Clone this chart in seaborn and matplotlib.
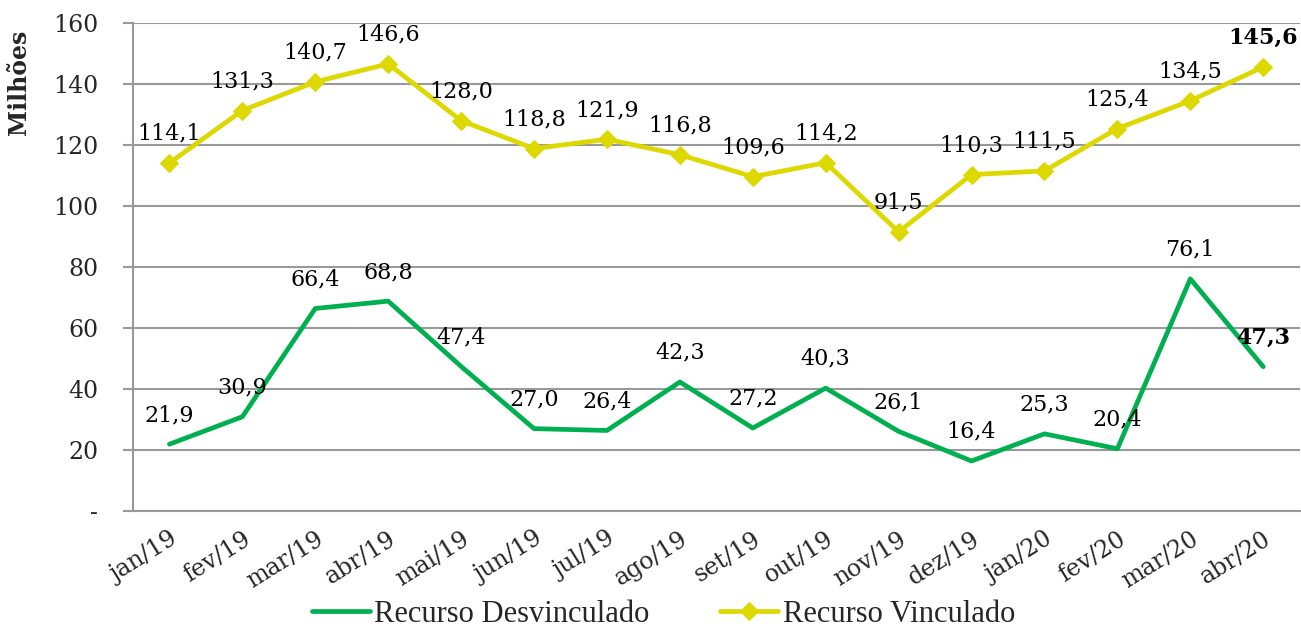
import matplotlib
matplotlib.use("Agg")
import matplotlib.pyplot as plt
import seaborn as sns
import pandas as pd
import numpy as np

# data
months = ["jan/19", "fev/19", "mar/19", "abr/19", "mai/19", "jun/19", "jul/19", "ago/19",
          "set/19", "out/19", "nov/19", "dez/19", "jan/20", "fev/20", "mar/20", "abr/20"]
desvinculado = [21.9, 30.9, 66.4, 68.8, 47.4, 27.0, 26.4, 42.3, 27.2, 40.3, 26.1, 16.4, 25.3, 20.4, 76.1, 47.3]
vinculado = [114.1, 131.3, 140.7, 146.6, 128.0, 118.8, 121.9, 116.8, 109.6, 114.2, 91.5, 110.3, 111.5, 125.4, 134.5, 145.6]

green = "#00B050"
yellow = "#DCD800"

sns.set_style("white")
plt.rcParams['font.family'] = ['DejaVu Serif']

df = pd.DataFrame({"pos": np.arange(len(months)), "mes": months,
                   "Recurso Desvinculado": desvinculado, "Recurso Vinculado": vinculado})

fig = plt.figure(figsize=(13.01, 6.30), dpi=100)
ax = fig.add_axes([0.1022, 0.1889, 0.8968, 0.7746])

sns.lineplot(data=df, x="pos", y="Recurso Desvinculado", color=green, linewidth=3.4,
             ax=ax, label="Recurso Desvinculado")
sns.lineplot(data=df, x="pos", y="Recurso Vinculado", color=yellow, linewidth=3.4,
             marker="D", markersize=9, markeredgecolor=yellow, ax=ax, label="Recurso Vinculado")

# data labels
for serie in [desvinculado, vinculado]:
    for i, v in enumerate(serie):
        last = i == len(serie) - 1
        ax.annotate(f"{v:.1f}".replace(".", ","), (i, v), xytext=(0, 21), textcoords="offset points",
                    ha="center", va="center", fontsize=16, color="black",
                    fontweight="bold" if last else "normal")

ax.set_xlim(-0.5, len(months) - 0.5)
ax.set_ylim(0, 160)
ax.set_yticks(range(0, 161, 20))
ax.set_yticklabels(["-"] + [str(t) for t in range(20, 161, 20)], fontsize=17)
ax.yaxis.grid(True, color="#999999", linewidth=1.5)
ax.set_axisbelow(True)

ax.set_xticks(np.arange(len(months)))
ax.set_xticklabels(months, rotation=32, ha="right", va="top", rotation_mode="anchor", fontsize=17)
ax.set_xticks(np.arange(len(months) + 1) - 0.5, minor=True)
ax.tick_params(axis="x", which="major", length=0, pad=12)
ax.tick_params(axis="x", which="minor", length=7, width=1.5, color="#999999", direction="out")
ax.tick_params(axis="y", length=7, width=1.5, color="#999999", direction="out", pad=18, left=True)

for s in ["top", "right"]:
    ax.spines[s].set_visible(False)
for s in ["left", "bottom"]:
    ax.spines[s].set_color("#999999")
    ax.spines[s].set_linewidth(1.5)

ax.set_xlabel("")
ax.set_ylabel("Milhões", fontsize=17, fontweight="bold")
ax.yaxis.set_label_coords(-0.0874, 0.879)

ax.get_legend().remove()
handles, labels = ax.get_legend_handles_labels()
fig.legend(handles, labels, loc="center", bbox_to_anchor=(0.51, 0.025), ncol=2, frameon=False,
           prop={"family": "Liberation Serif", "size": 22}, handlelength=1.9, handletextpad=0.15,
           columnspacing=2.3)

fig.savefig("out.png", dpi=100)
